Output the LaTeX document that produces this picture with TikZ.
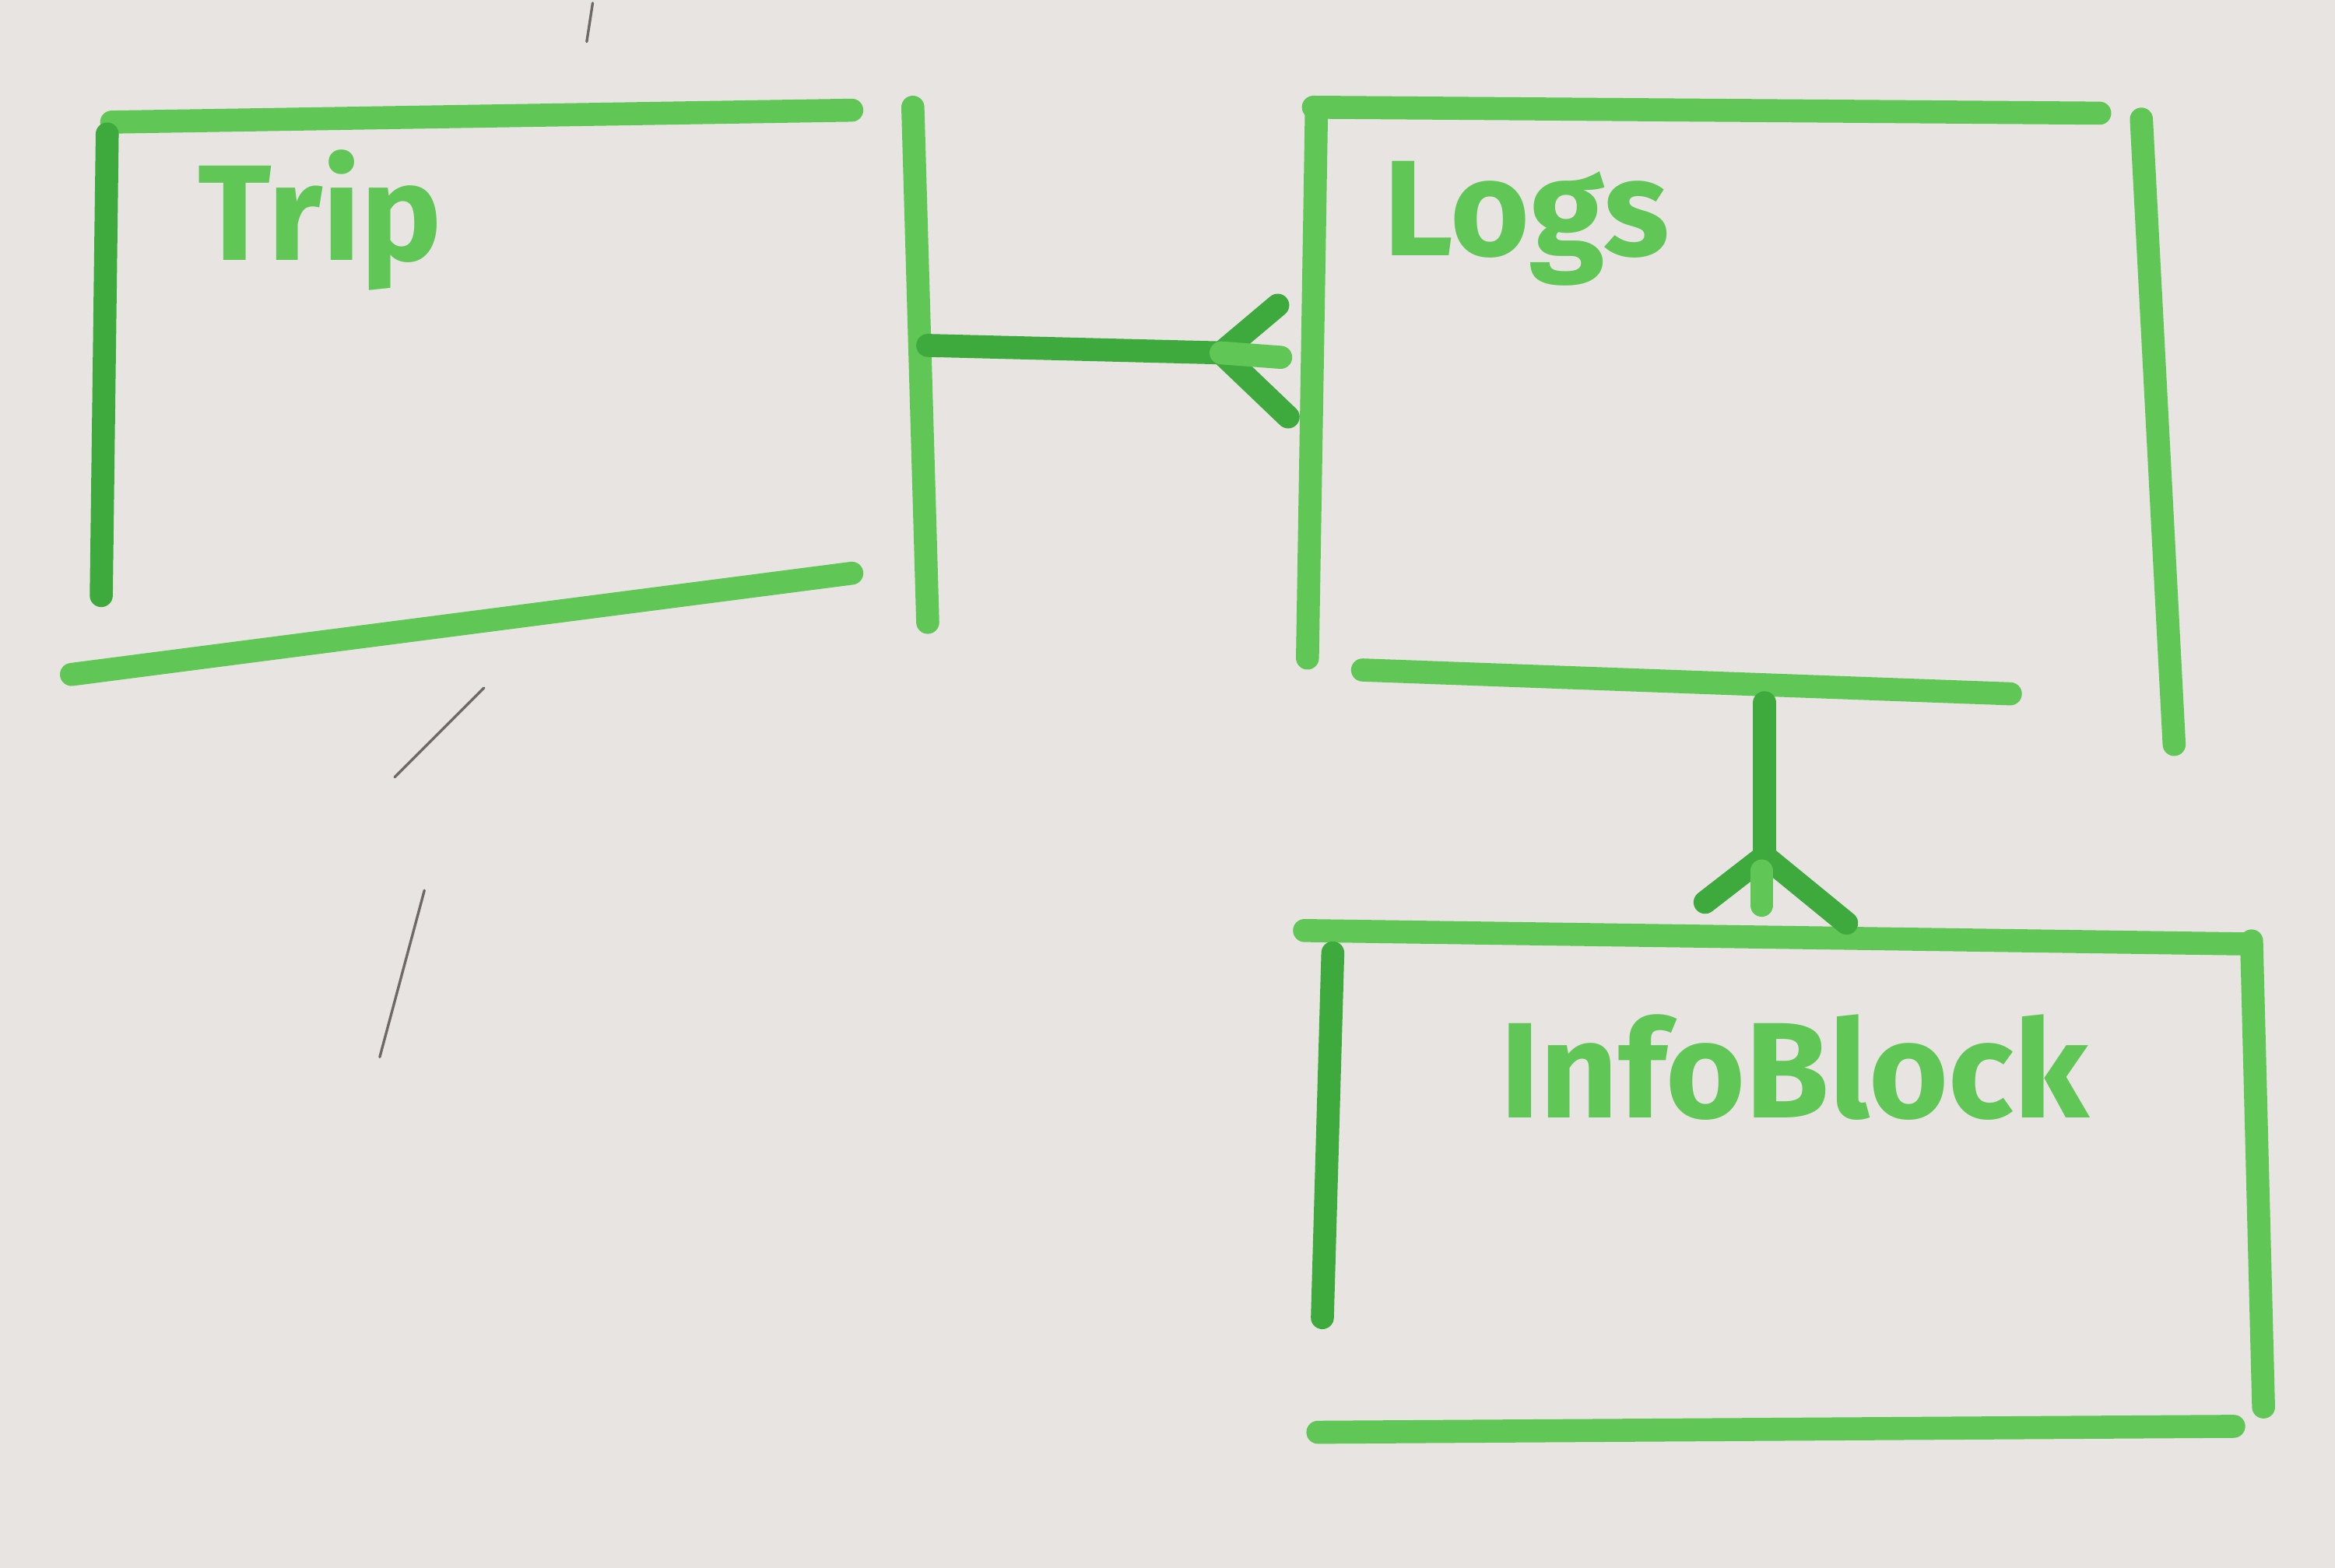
\documentclass[tikz,border=0pt]{standalone}
\usepackage{fontspec}
\setsansfont{Fira Sans}
\definecolor{board}{RGB}{231,228,225}
\definecolor{marker}{RGB}{96,198,86}
\definecolor{markerdark}{RGB}{62,170,62}
\definecolor{pencil}{RGB}{110,105,102}
\tikzset{
  pen/.style={draw=marker, line width=4.4pt, line cap=round},
  entity/.style={text=marker, font=\sffamily\bfseries\fontsize{26}{26}\selectfont, inner sep=0pt},
  scribble/.style={draw=pencil, line width=0.5pt, line cap=round}
}
\begin{document}
\begin{tikzpicture}[x=0.01cm, y=-0.01cm]
\fill[board] (0,0) rectangle (1568,1053);
\useasboundingbox (0,0) rectangle (1568,1053);
% entity titles
\node[entity] (trip) at (215,148) {Trip};
\node[entity] (logs) at (1025,150) {Logs};
\node[entity] (info) at (1205,717) {InfoBlock};
% Trip box
\draw[pen] (75,82) -- (572,74);
\draw[pen, draw=markerdark] (72,90) -- (68,400);
\draw[pen] (48,453) -- (572,385);
\draw[pen] (613,72) -- (623,418);
% Logs box
\draw[pen] (882,72) -- (1410,76);
\draw[pen] (884,76) -- (878,442);
\draw[pen] (1438,80) -- (1460,500);
\draw[pen] (915,450) -- (1350,466);
% InfoBlock box
\draw[pen] (876,625) -- (1508,634);
\draw[pen, draw=markerdark] (895,640) -- (888,885);
\draw[pen] (1512,632) -- (1520,945);
\draw[pen] (885,962) -- (1500,958);
% relations
\coordinate (tripbar) at (623,232);
\coordinate (logsfoot) at (820,237);
\coordinate (logsbar) at (1185,472);
\coordinate (infofoot) at (1185,575);
\draw[pen, draw=markerdark] (tripbar) -- (logsfoot);
\draw[pen, draw=markerdark] (logsfoot) -- (858,205);
\draw[pen, draw=markerdark] (logsfoot) -- (865,280);
\draw[pen] (logsfoot) -- (860,240);
\draw[pen, draw=markerdark] (logsbar) -- (infofoot);
\draw[pen, draw=markerdark] (infofoot) -- (1145,606);
\draw[pen, draw=markerdark] (infofoot) -- (1240,620);
\draw[pen] (1183,585) -- (1183,608);
% stray pencil marks
\draw[scribble] (265,522) -- (325,462);
\draw[scribble] (255,710) -- (285,598);
\draw[scribble] (398,2) -- (394,28);
\end{tikzpicture}
\end{document}
